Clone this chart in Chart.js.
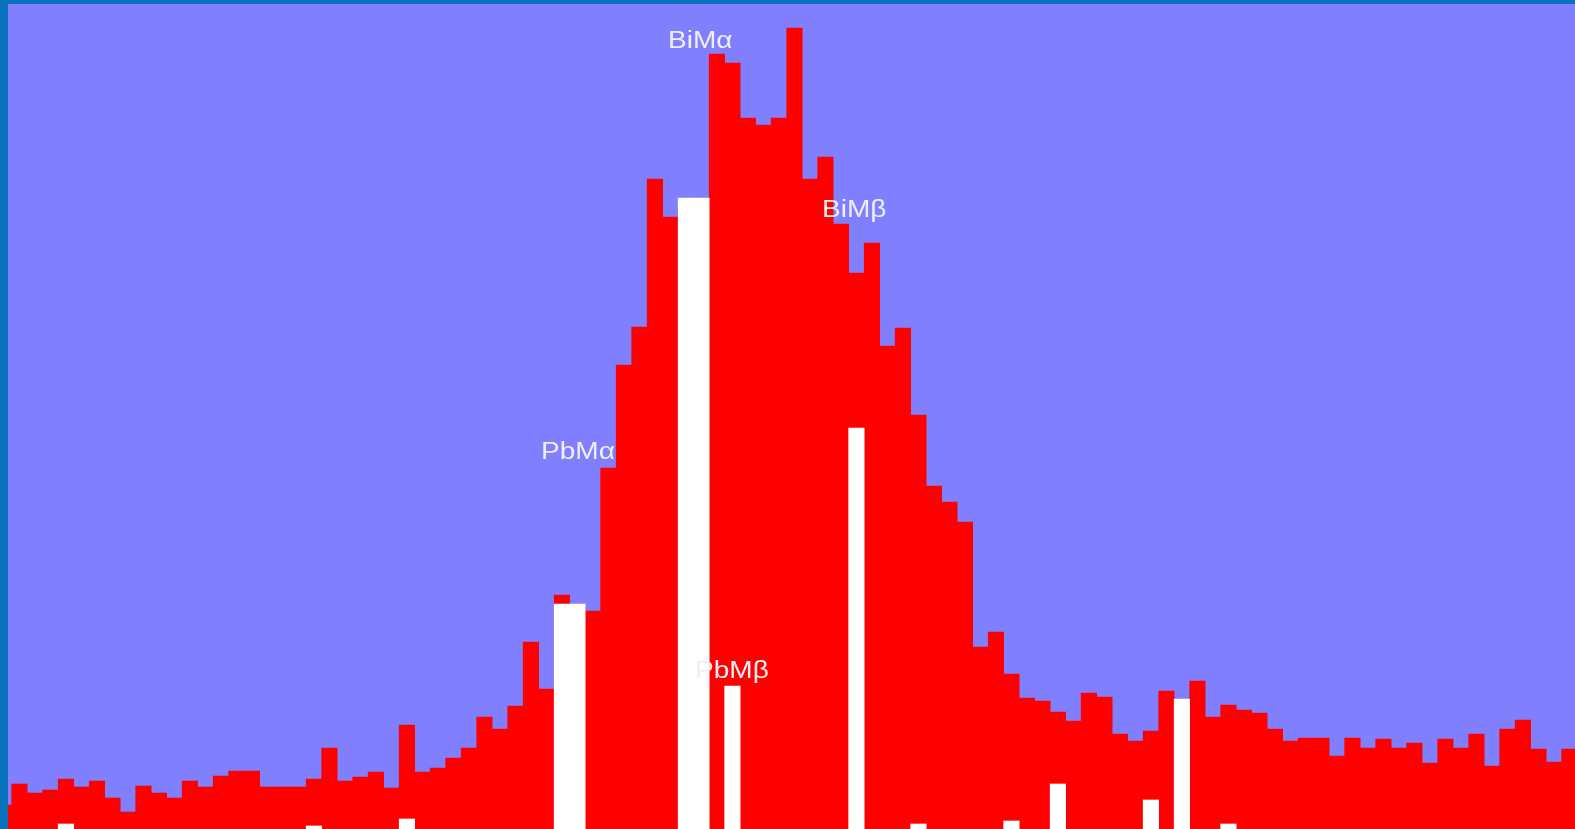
<!DOCTYPE html>
<html>
<head>
<meta charset="utf-8">
<title>BiM / PbM X-ray spectrum</title>
<script src="https://cdn.jsdelivr.net/npm/chart.js@4/dist/chart.umd.min.js"></script>
<style>
  html, body { margin: 0; padding: 0; background: #0872bc; overflow: hidden; }
  #spectrum { display: block; }
</style>
</head>
<body>
<canvas id="spectrum" width="1575" height="829"></canvas>
<script>
// Energy channels (bin index) of the measured spectrum
const channels = Array.from({ length: 102 }, (_, i) => i);

// Measured counts per channel (red histogram)
const measuredCounts = [
  24, 45, 36, 39, 50, 42, 48, 31, 17, 43,
  36, 31, 48, 42, 53, 58, 58, 42, 42, 42,
  50, 81, 48, 52, 57, 41, 104, 57, 61, 71,
  81, 112, 100, 123, 187, 140, 234, 221, 218, 361,
  464, 502, 650, 612, 620, 628, 775, 766, 711, 704,
  711, 801, 650, 672, 605, 556, 586, 483, 501, 414,
  343, 327, 307, 182, 197, 155, 131, 128, 117, 108,
  136, 132, 95, 88, 98, 138, 125, 148, 112, 124,
  119, 116, 100, 88, 91, 91, 73, 91, 81, 90,
  81, 86, 66, 90, 81, 95, 63, 100, 109, 80,
  67, 80
];

// Reference line intensities (white markers), channel -> counts
const lineChannels = [4, 20, 26, 36, 37, 44, 45, 47, 55, 59, 65, 68, 74, 76, 79];
const lineCounts   = [5, 3, 10, 225, 225, 631, 631, 143, 401, 5, 8, 45, 29, 130, 5];

// Line labels and where they sit (channel, counts at text baseline)
const labelNames    = ['BiMα', 'BiMβ', 'PbMα', 'PbMβ'];
const labelChannels = [42.84, 52.78, 34.65, 44.58];
const labelCounts   = [781, 612, 370, 151];

const measuredData = channels.map((c, i) => ({ x: c, y: measuredCounts[i] }));
const lineData = lineChannels.map((c, i) => ({ x: c, y: lineCounts[i] }));

// Paint the lavender plotting field behind the bars
const plotBackground = {
  id: 'plotBackground',
  beforeDraw(chart) {
    const { ctx, chartArea: a } = chart;
    ctx.save();
    ctx.fillStyle = '#8080ff';
    ctx.fillRect(a.left, a.top, a.right - a.left, a.bottom - a.top);
    ctx.restore();
  }
};

// Line name labels, stretched horizontally like the rest of the slide
const lineLabels = {
  id: 'lineLabels',
  afterDatasetsDraw(chart) {
    const { ctx, scales } = chart;
    const stretch = 1.22;
    ctx.save();
    ctx.font = '23px "Liberation Sans", Arial, sans-serif';
    ctx.fillStyle = '#eeeef6';
    ctx.textAlign = 'left';
    ctx.textBaseline = 'alphabetic';
    labelNames.forEach((name, i) => {
      const px = scales.x.getPixelForValue(labelChannels[i]);
      const py = scales.y.getPixelForValue(labelCounts[i]);
      ctx.save();
      ctx.translate(px, py);
      ctx.scale(stretch, 1);
      ctx.fillText(name, 0, 0);
      ctx.restore();
    });
    ctx.restore();
  }
};

new Chart(document.getElementById('spectrum'), {
  type: 'bar',
  data: {
    datasets: [
      {
        label: 'Lines',
        data: lineData,
        backgroundColor: '#ffffff',
        borderWidth: 0,
        order: 0
      },
      {
        label: 'Spectrum',
        data: measuredData,
        backgroundColor: '#ff0000',
        borderWidth: 0,
        order: 1
      }
    ]
  },
  options: {
    responsive: false,
    devicePixelRatio: 1,
    animation: false,
    layout: { padding: { left: 8, top: 4, right: 0, bottom: 0 } },
    datasets: {
      bar: {
        grouped: false,
        barPercentage: 1,
        categoryPercentage: 1
      }
    },
    scales: {
      x: {
        type: 'linear',
        min: 0.261,
        max: 101.36,
        display: false,
        offset: false
      },
      y: {
        min: 0,
        max: 825,
        display: false
      }
    },
    plugins: {
      legend: { display: false },
      tooltip: { enabled: false }
    }
  },
  plugins: [plotBackground, lineLabels]
});
</script>
</body>
</html>
